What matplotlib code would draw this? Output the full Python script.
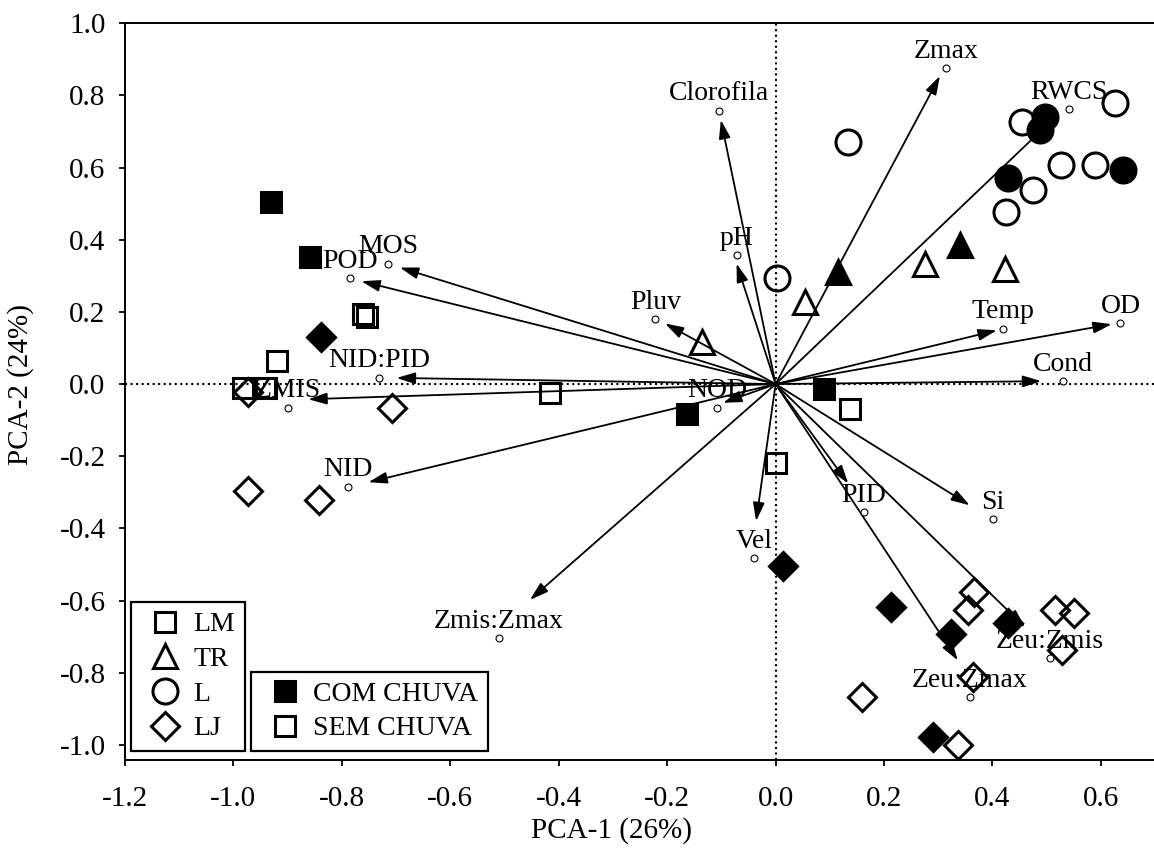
import matplotlib
matplotlib.use("Agg")
import matplotlib.pyplot as plt
from matplotlib.lines import Line2D

plt.rcParams['font.family'] = ['Liberation Serif', 'DejaVu Serif']

# variable loadings: small circle (label point) and arrow tip
var_names = ['Zmax', 'RWCS', 'Clorofila', 'pH', 'MOS', 'POD', 'Pluv', 'Temp', 'OD', 'Cond',
             'NID:PID', 'ZMIS', 'NID', 'NOD', 'Vel', 'PID', 'Si', 'Zmis:Zmax', 'Zeu:Zmis', 'Zeu:Zmax']
var_x = [0.315, 0.541, -0.104, -0.072, -0.714, -0.785, -0.222, 0.420, 0.636, 0.530,
         -0.732, -0.899, -0.788, -0.108, -0.040, 0.163, 0.401, -0.510, 0.506, 0.358]
var_y = [0.875, 0.762, 0.758, 0.357, 0.334, 0.293, 0.179, 0.154, 0.168, 0.008,
         0.018, -0.066, -0.285, -0.066, -0.482, -0.355, -0.375, -0.704, -0.760, -0.868]
arrow_x = [0.303, 0.506, -0.101, -0.072, -0.693, -0.764, -0.204, 0.408, 0.620, 0.490,
           -0.699, -0.862, -0.751, -0.097, -0.036, 0.134, 0.358, -0.453, 0.460, 0.336]
arrow_y = [0.854, 0.726, 0.732, 0.334, 0.323, 0.285, 0.168, 0.149, 0.166, 0.008,
           0.017, -0.042, -0.272, -0.052, -0.380, -0.276, -0.336, -0.598, -0.674, -0.766]

# sample scores per site, com chuva (filled) / sem chuva (open)
lm_com_x = [-0.930, -0.859, -0.163, 0.090]
lm_com_y = [0.504, 0.353, -0.084, -0.015]
lm_sem_x = [-0.761, -0.754, -0.919, -0.982, -0.939, -0.416, 0.137, 0.000]
lm_sem_y = [0.194, 0.186, 0.064, -0.012, -0.012, -0.026, -0.068, -0.219]
tr_com_x = [0.115, 0.340]
tr_com_y = [0.311, 0.385]
tr_sem_x = [0.275, 0.423, 0.054, -0.135]
tr_sem_y = [0.334, 0.320, 0.228, 0.117]
l_com_x = [0.429, 0.497, 0.488, 0.641]
l_com_y = [0.570, 0.740, 0.704, 0.593]
l_sem_x = [0.134, 0.455, 0.626, 0.527, 0.589, 0.474, 0.425, 0.003]
l_sem_y = [0.672, 0.727, 0.778, 0.607, 0.607, 0.538, 0.477, 0.293]
lj_com_x = [-0.839, 0.013, 0.212, 0.323, 0.428, 0.291]
lj_com_y = [0.131, -0.505, -0.618, -0.692, -0.663, -0.979]
lj_sem_x = [-0.973, -0.707, -0.973, -0.842, 0.366, 0.355, 0.515, 0.551, 0.529, 0.364, 0.160, 0.336]
lj_sem_y = [-0.022, -0.066, -0.297, -0.322, -0.575, -0.626, -0.627, -0.634, -0.738, -0.811, -0.868, -1.000]

site_labels = ['LM', 'TR', 'L', 'LJ']
rain_labels = ['COM CHUVA', 'SEM CHUVA']

markers = {'LM': ('s', 14.5), 'TR': ('^', 17), 'L': ('o', 18), 'LJ': ('D', 14)}
mew = 2.2

fig = plt.figure(figsize=(11.54, 8.66), dpi=100)
ax = fig.add_axes([0.1083, 0.1224, 0.8927, 0.8507])

groups = [('LM', lm_com_x, lm_com_y, lm_sem_x, lm_sem_y),
          ('TR', tr_com_x, tr_com_y, tr_sem_x, tr_sem_y),
          ('L', l_com_x, l_com_y, l_sem_x, l_sem_y),
          ('LJ', lj_com_x, lj_com_y, lj_sem_x, lj_sem_y)]
for site, cx, cy, sx, sy in groups:
    m, ms = markers[site]
    ax.plot(sx, sy, ls='none', marker=m, ms=ms, mfc='none', mec='k', mew=mew, zorder=2)
    ax.plot(cx, cy, ls='none', marker=m, ms=ms, mfc='k', mec='k', mew=mew, zorder=2)

ax.axhline(0, color='k', ls=':', lw=1.5, zorder=3)
ax.axvline(0, color='k', ls=':', lw=1.5, zorder=3)

for name, vx, vy, tx, ty in zip(var_names, var_x, var_y, arrow_x, arrow_y):
    ax.annotate('', xy=(tx, ty), xytext=(0, 0),
                arrowprops=dict(arrowstyle='-|>,head_length=0.8,head_width=0.25',
                                color='k', lw=1.3, shrinkA=0, shrinkB=0, mutation_scale=14),
                zorder=4)
    ax.plot(vx, vy, ls='none', marker='o', ms=5, mfc='white', mec='k', mew=0.8, zorder=5)
    ax.annotate(name, (vx, vy), xytext=(0, 7.5), textcoords='offset points',
                ha='center', va='baseline', fontsize=20, zorder=6)

ax.set_xlim(-1.2, 0.7)
ax.set_ylim(-1.042, 1.0)
ax.set_xticks([-1.2, -1.0, -0.8, -0.6, -0.4, -0.2, 0.0, 0.2, 0.4, 0.6])
ax.set_yticks([-1.0, -0.8, -0.6, -0.4, -0.2, 0.0, 0.2, 0.4, 0.6, 0.8, 1.0])
ax.xaxis.set_major_formatter(matplotlib.ticker.FormatStrFormatter('%.1f'))
ax.yaxis.set_major_formatter(matplotlib.ticker.FormatStrFormatter('%.1f'))
ax.tick_params(direction='out', length=4, width=1.3, labelsize=21)
ax.tick_params(axis='y', pad=10)
ax.tick_params(axis='x', pad=15)
ax.spines['right'].set_visible(False)
for s in ['left', 'bottom', 'top']:
    ax.spines[s].set_linewidth(1.4)

ax.set_xlabel('PCA-1 (26%)', fontsize=21)
ax.set_ylabel('PCA-2 (24%)', fontsize=21)
ax.xaxis.set_label_coords(0.472, -0.077)
ax.yaxis.set_label_coords(-0.088, 0.51)

legend_kw = dict(loc='lower left', borderaxespad=0, fancybox=False, edgecolor='k',
                 framealpha=1, fontsize=20, handlelength=1.75, handletextpad=0.15,
                 labelspacing=0.33, borderpad=0.35)

site_handles = [Line2D([], [], ls='none', marker=markers[s][0], ms=markers[s][1],
                       mfc='none', mec='k', mew=mew) for s in site_labels]
leg1 = ax.legend(site_handles, site_labels, bbox_to_anchor=(0.0058, 0.0122), **legend_kw)
leg1.get_frame().set_linewidth(1.6)
ax.add_artist(leg1)

rain_handles = [Line2D([], [], ls='none', marker='s', ms=14.5, mfc=fc, mec='k', mew=mew)
                for fc in ['k', 'none']]
leg2 = ax.legend(rain_handles, rain_labels, bbox_to_anchor=(0.1223, 0.0122), **legend_kw)
leg2.get_frame().set_linewidth(1.6)

fig.savefig('out.png', dpi=100)
